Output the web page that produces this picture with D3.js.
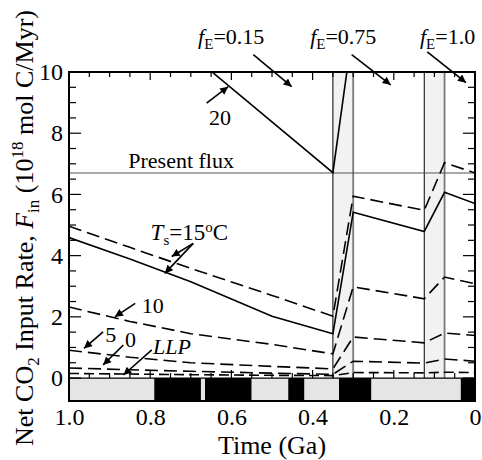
<!DOCTYPE html>
<html>
<head>
<meta charset="utf-8">
<script src="https://d3js.org/d3.v7.min.js"></script>
<style>
  body { margin: 0; background: #fff; }
  text { font-family: "Liberation Serif", "Times New Roman", serif; fill: #000; }
</style>
</head>
<body>
<script>
// knots (Ga) shared by the Ts curves
const ages = [1.0, 0.85, 0.7, 0.5, 0.35, 0.30, 0.125, 0.075, 0];
const solid15  = [4.59, 3.89, 3.15, 2.02, 1.45, 5.42, 4.79, 6.07, 5.70];
const dashed15 = [4.96, 4.27, 3.58, 2.70, 2.02, 5.94, 5.48, 7.04, 6.70];
const dashed10 = [2.32, 1.85, 1.45, 1.10, 0.79, 2.98, 2.59, 3.30, 3.08];
const dashed5  = [0.91, 0.68, 0.50, 0.38, 0.30, 1.34, 1.15, 1.47, 1.39];
const dashed0  = [0.33, 0.27, 0.22, 0.16, 0.12, 0.55, 0.49, 0.62, 0.55];
const llp      = [0.15, 0.13, 0.11, 0.09, 0.08, 0.18, 0.17, 0.19, 0.18];
// Ts = 20 runs off the top
const ages20  = [1.0, 0.35, 0.30];
const solid20 = [13.9, 6.71, 11.5];

const presentFlux = 6.7;
const transitions = [[0.35, 0.30], [0.125, 0.075]];

// bar along the bottom
const stripEdges = [1.0, 0.79, 0.675, 0.665, 0.55, 0.46, 0.42, 0.335, 0.255, 0.035, 0];
const stripDark  = [false, true, false, true, false, true, false, true, false, true];

const xTickVals = [1.0, 0.8, 0.6, 0.4, 0.2, 0];
const xTickLabels = ["1.0", "0.8", "0.6", "0.4", "0.2", "0"];
const yTickVals = [0, 2, 4, 6, 8, 10];

const margin = {top: 72, left: 69, right: 7, bottom: 59};
const W = 482, H = 460;
const width = W - margin.left - margin.right,
      height = H - margin.top - margin.bottom;

const svg = d3.select("body").append("svg")
    .attr("width", W).attr("height", H);

const defs = svg.append("defs");
defs.append("marker")
    .attr("id", "arr")
    .attr("viewBox", "0 0 10 10")
    .attr("refX", 10).attr("refY", 5)
    .attr("markerUnits", "userSpaceOnUse")
    .attr("markerWidth", 10).attr("markerHeight", 8)
    .attr("orient", "auto")
  .append("path").attr("d", "M0,0 L10,5 L0,10 z").attr("fill", "#000");

const g = svg.append("g").attr("transform", `translate(${margin.left},${margin.top})`);

const x = d3.scaleLinear().domain([1.0, 0]).range([0, width]);
const y = d3.scaleLinear().domain([-0.75, 10]).range([height, 0]);

defs.append("clipPath").attr("id", "plot")
  .append("rect").attr("x", 0).attr("y", 0).attr("width", width).attr("height", y(0));

// shaded transition bands
transitions.forEach(function(t) {
  g.append("rect")
    .attr("x", x(t[0])).attr("y", y(10))
    .attr("width", x(t[1]) - x(t[0])).attr("height", y(0) - y(10))
    .attr("fill", "#f2f2f2");
  g.append("line")
    .attr("x1", x(t[0])).attr("x2", x(t[0])).attr("y1", y(10)).attr("y2", y(0))
    .attr("stroke", "#000").attr("stroke-width", 1);
  g.append("line")
    .attr("x1", x(t[1])).attr("x2", x(t[1])).attr("y1", y(10)).attr("y2", y(0))
    .attr("stroke", "#7a7a7a").attr("stroke-width", 1.8);
});

// present flux
g.append("line")
  .attr("x1", 0).attr("x2", width)
  .attr("y1", y(presentFlux)).attr("y2", y(presentFlux))
  .attr("stroke", "#555").attr("stroke-width", 1);

const line = d3.line().x(d => x(d[0])).y(d => y(d[1]));
const curves = [
  {a: ages20, v: solid20, dash: null},
  {a: ages, v: solid15, dash: null},
  {a: ages, v: dashed15, dash: "13,6"},
  {a: ages, v: dashed10, dash: "13,6"},
  {a: ages, v: dashed5, dash: "13,6"},
  {a: ages, v: dashed0, dash: "13,6"},
  {a: ages, v: llp, dash: "10,5"}
];
const cg = g.append("g").attr("clip-path", "url(#plot)");
curves.forEach(function(c) {
  cg.append("path")
    .attr("d", line(c.a.map((a, i) => [a, c.v[i]])))
    .attr("fill", "none").attr("stroke", "#000").attr("stroke-width", 1.6)
    .attr("stroke-dasharray", c.dash);
});

// strip
g.selectAll(".strip").data(stripDark).enter().append("rect")
  .attr("x", (d, i) => x(stripEdges[i]))
  .attr("width", (d, i) => x(stripEdges[i + 1]) - x(stripEdges[i]))
  .attr("y", y(0)).attr("height", height - y(0))
  .attr("fill", d => d ? "#000" : "#e5e5e5");
g.append("line").attr("x1", 0).attr("x2", width).attr("y1", y(0)).attr("y2", y(0))
  .attr("stroke", "#000").attr("stroke-width", 1.2);

// ticks (inward)
const xMinor = x.ticks(20);
const yMinor = d3.range(0, 10.01, 0.5);
function isMajorX(d) { return Math.abs(d * 5 - Math.round(d * 5)) < 1e-6; }
function isMajorY(d) { return d % 2 === 0; }

g.selectAll(".tt").data(xMinor).enter().append("line")
  .attr("x1", d => x(d)).attr("x2", d => x(d))
  .attr("y1", 0).attr("y2", d => isMajorX(d) ? 8 : 5)
  .attr("stroke", "#000").attr("stroke-width", 1.2);
g.selectAll(".bt").data(xMinor).enter().append("line")
  .attr("x1", d => x(d)).attr("x2", d => x(d))
  .attr("y1", y(0)).attr("y2", d => y(0) - (isMajorX(d) ? 8 : 5))
  .attr("stroke", "#000").attr("stroke-width", 1.2);
g.selectAll(".lt").data(yMinor).enter().append("line")
  .attr("y1", d => y(d)).attr("y2", d => y(d))
  .attr("x1", 0).attr("x2", d => isMajorY(d) ? 12 : 7)
  .attr("stroke", "#000").attr("stroke-width", 1.2);
g.selectAll(".rt").data(yMinor).enter().append("line")
  .attr("y1", d => y(d)).attr("y2", d => y(d))
  .attr("x1", width).attr("x2", d => width - (isMajorY(d) ? 12 : 7))
  .attr("stroke", "#000").attr("stroke-width", 1.2);

// frame
g.append("rect").attr("width", width).attr("height", height)
  .attr("fill", "none").attr("stroke", "#000").attr("stroke-width", 2);

// tick labels via axes
const xAxis = g.append("g").attr("transform", `translate(0,${height})`)
  .call(d3.axisBottom(x).tickValues(xTickVals).tickFormat((d, i) => xTickLabels[i])
    .tickSize(0).tickPadding(7));
const yAxis = g.append("g")
  .call(d3.axisLeft(y).tickValues(yTickVals).tickFormat(d3.format("d"))
    .tickSize(0).tickPadding(6));
[xAxis, yAxis].forEach(function(ax) {
  ax.select(".domain").remove();
  ax.selectAll("text").attr("font-size", 24)
    .attr("font-family", '"Liberation Serif", "Times New Roman", serif');
});

// axis titles
svg.append("text")
  .attr("x", margin.left + width / 2).attr("y", 454)
  .attr("text-anchor", "middle").attr("font-size", 26)
  .text("Time (Ga)");

const yl = svg.append("text")
  .attr("transform", "translate(33,228) rotate(-90)")
  .attr("text-anchor", "middle").attr("font-size", 26);
yl.append("tspan").text("Net CO");
yl.append("tspan").attr("font-size", 17).attr("dy", 6).text("2");
yl.append("tspan").attr("dy", -6).text(" Input Rate, ");
yl.append("tspan").attr("font-style", "italic").text("F");
yl.append("tspan").attr("font-size", 17).attr("dy", 6).text("in");
yl.append("tspan").attr("dy", -6).text(" (10");
yl.append("tspan").attr("font-size", 17).attr("dy", -10).text("18");
yl.append("tspan").attr("dy", 10).text(" mol C/Myr)");

// annotations
function arrow(a1, v1, a2, v2) {
  g.append("line")
    .attr("x1", x(a1)).attr("y1", y(v1)).attr("x2", x(a2)).attr("y2", y(v2))
    .attr("stroke", "#000").attr("stroke-width", 1.6).attr("marker-end", "url(#arr)");
}
function plain(a, v, s, anchor) {
  return g.append("text").attr("x", x(a)).attr("y", y(v))
    .attr("font-size", 22).attr("text-anchor", anchor || "start").text(s);
}
function fE(a, v, val) {
  const t = g.append("text").attr("x", x(a)).attr("y", y(v)).attr("font-size", 22);
  t.append("tspan").attr("font-style", "italic").text("f");
  t.append("tspan").attr("font-size", 15).attr("dy", 5).text("E");
  t.append("tspan").attr("dy", -5).text("=" + val);
}

fE(0.682, 10.9, "0.15");
arrow(0.546, 10.57, 0.4515, 9.52);
fE(0.406, 10.9, "0.75");
arrow(0.3037, 10.57, 0.2077, 9.58);
fE(0.1355, 10.9, "1.0");
arrow(0.1175, 10.66, 0.0222, 9.65);

plain(0.628, 8.27, "20", "middle");
arrow(0.661, 8.98, 0.608, 9.52);

plain(0.854, 6.86, "Present flux");

const ts = g.append("text").attr("x", x(0.799)).attr("y", y(4.51)).attr("font-size", 23);
ts.append("tspan").attr("font-style", "italic").text("T");
ts.append("tspan").attr("font-size", 15).attr("dy", 5).text("s");
ts.append("tspan").attr("dy", -5).text("=15");
ts.append("tspan").attr("font-size", 15).attr("dy", -8).text("o");
ts.append("tspan").attr("dy", 8).text("C");
arrow(0.694, 4.40, 0.747, 3.97);
arrow(0.694, 4.40, 0.764, 3.42);

plain(0.821, 2.13, "10");
arrow(0.837, 2.44, 0.887, 2.00);
plain(0.911, 1.19, "5");
arrow(0.916, 1.51, 0.963, 0.97);
plain(0.862, 1.01, "0");
arrow(0.866, 1.08, 0.916, 0.43);
plain(0.793, 0.79, "LLP").attr("font-style", "italic");
arrow(0.796, 0.92, 0.866, 0.10);
</script>
</body>
</html>
